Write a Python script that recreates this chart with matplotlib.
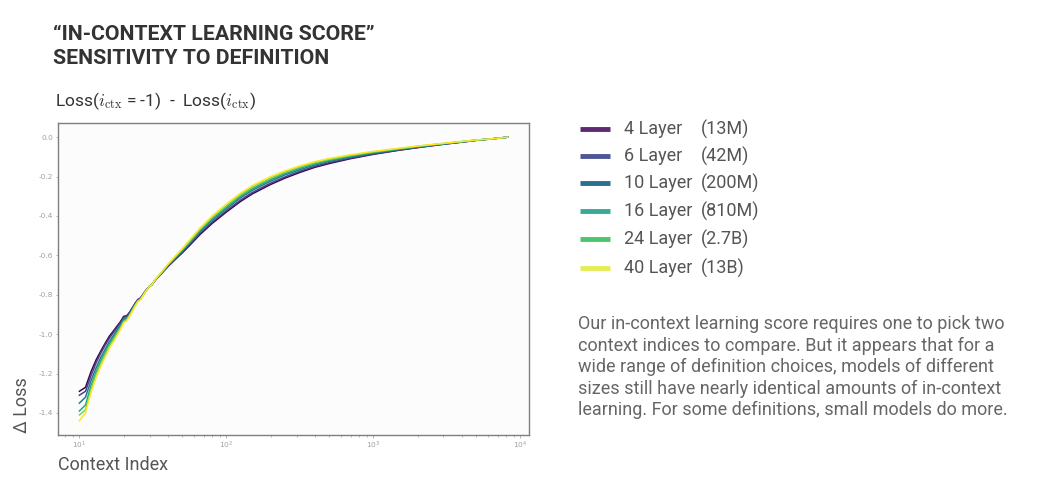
import matplotlib
matplotlib.use("Agg")
import matplotlib.pyplot as plt

plt.rcParams['mathtext.fontset'] = 'cm'
plt.rcParams['axes.unicode_minus'] = False

context_index = [10, 11, 12, 13, 14, 15, 16, 17, 18, 19, 20, 21, 22, 24, 25, 26, 28, 30, 31, 33,
                 36, 40, 45, 50, 56, 66, 80, 100, 125, 150, 200, 250, 316, 400, 500, 700, 1000,
                 1500, 2000, 3000, 4000, 5000, 6500, 8192]

loss_4 = [-1.290, -1.270, -1.190, -1.130, -1.085, -1.045, -1.010, -0.985, -0.960, -0.937, -0.910,
          -0.906, -0.888, -0.842, -0.824, -0.817, -0.783, -0.757, -0.750, -0.724, -0.694, -0.657,
          -0.620, -0.588, -0.551, -0.495, -0.438, -0.380, -0.326, -0.288, -0.240, -0.208, -0.179,
          -0.153, -0.134, -0.109, -0.087, -0.066, -0.053, -0.036, -0.025, -0.016, -0.008, 0.000]
loss_6 = [-1.310, -1.290, -1.210, -1.145, -1.095, -1.055, -1.020, -0.993, -0.967, -0.942, -0.915,
          -0.910, -0.891, -0.844, -0.825, -0.818, -0.783, -0.757, -0.750, -0.723, -0.693, -0.655,
          -0.617, -0.584, -0.546, -0.489, -0.431, -0.373, -0.319, -0.281, -0.233, -0.202, -0.173,
          -0.148, -0.129, -0.106, -0.085, -0.065, -0.052, -0.035, -0.025, -0.016, -0.008, 0.000]
loss_10 = [-1.350, -1.320, -1.235, -1.170, -1.117, -1.075, -1.037, -1.008, -0.980, -0.954, -0.924,
           -0.917, -0.896, -0.847, -0.828, -0.820, -0.784, -0.757, -0.750, -0.723, -0.691, -0.652,
           -0.613, -0.579, -0.540, -0.481, -0.422, -0.363, -0.308, -0.270, -0.223, -0.192, -0.165,
           -0.141, -0.123, -0.101, -0.081, -0.062, -0.050, -0.034, -0.024, -0.015, -0.008, 0.000]
loss_16 = [-1.390, -1.360, -1.260, -1.190, -1.135, -1.090, -1.050, -1.020, -0.990, -0.962, -0.930,
           -0.922, -0.900, -0.850, -0.830, -0.822, -0.785, -0.757, -0.750, -0.722, -0.690, -0.650,
           -0.610, -0.575, -0.535, -0.475, -0.415, -0.355, -0.300, -0.262, -0.215, -0.185, -0.158,
           -0.135, -0.118, -0.097, -0.078, -0.060, -0.048, -0.033, -0.023, -0.015, -0.008, 0.000]
loss_24 = [-1.410, -1.385, -1.280, -1.205, -1.148, -1.102, -1.060, -1.030, -0.998, -0.969, -0.936,
           -0.927, -0.904, -0.853, -0.832, -0.824, -0.786, -0.757, -0.750, -0.721, -0.689, -0.648,
           -0.607, -0.571, -0.530, -0.469, -0.408, -0.348, -0.292, -0.254, -0.208, -0.178, -0.152,
           -0.130, -0.113, -0.093, -0.075, -0.058, -0.046, -0.032, -0.022, -0.015, -0.008, 0.000]
loss_40 = [-1.440, -1.400, -1.295, -1.220, -1.163, -1.115, -1.072, -1.040, -1.008, -0.977, -0.942,
           -0.932, -0.908, -0.856, -0.835, -0.826, -0.787, -0.757, -0.750, -0.720, -0.687, -0.645,
           -0.603, -0.566, -0.524, -0.462, -0.400, -0.339, -0.284, -0.246, -0.200, -0.171, -0.146,
           -0.124, -0.108, -0.089, -0.072, -0.056, -0.045, -0.031, -0.022, -0.014, -0.008, 0.000]

layers = ["4 Layer", "6 Layer", "10 Layer", "16 Layer", "24 Layer", "40 Layer"]
sizes = ["(13M)", "(42M)", "(200M)", "(810M)", "(2.7B)", "(13B)"]
series = [loss_4, loss_6, loss_10, loss_16, loss_24, loss_40]
line_colors = ['#440154', '#414487', '#2a788e', '#22a884', '#7ad151', '#fde725']
legend_colors = ['#5e2b72', '#4d5796', '#2a6f8e', '#3aa896', '#4ec46f', '#e6ec55']

fig = plt.figure(figsize=(10.56, 4.99), dpi=100)
fig.patch.set_facecolor('white')

ax = fig.add_axes([58/1056, 1 - 435/499, (529-58)/1056, (435-123)/499])
ax.set_facecolor('#fcfcfc')
for ys, c in zip(series, line_colors):
    ax.plot(context_index, ys, color=c, lw=1.1)
ax.set_xscale('log')
ax.margins(x=0.05, y=0.05)
for s in ax.spines.values():
    s.set_color('#7f7f7f')
    s.set_linewidth(1.0)
ax.tick_params(axis='both', which='both', labelsize=5.3, colors='#aaaaaa', labelcolor='#a0a0a0',
               length=1.8, width=0.6, pad=1.8)
ax.tick_params(axis='both', which='minor', length=1.2)
ax.set_yticks([0.0, -0.2, -0.4, -0.6, -0.8, -1.0, -1.2, -1.4])

fam = ['Roboto', 'DejaVu Sans']
fig.text(53/1056, 1 - 34/499, "“IN-CONTEXT LEARNING SCORE”", family=fam, weight='bold',
         fontsize=15.3, color='#333333', va='center', ha='left')
fig.text(53/1056, 1 - 58/499, "SENSITIVITY TO DEFINITION", family=fam, weight='bold',
         fontsize=15.3, color='#333333', va='center', ha='left')
fig.text(55/1056, 1 - 101/499, r"Loss($i_{\mathrm{ctx}}$ = -1)  -  Loss($i_{\mathrm{ctx}}$)",
         family=fam, fontsize=12.5, color='#333333', va='center', ha='left')
fig.text(22/1056, 1 - 405/499, "Δ Loss", family=fam, fontsize=13, color='#555555',
         va='center', ha='center', rotation=90)
fig.text(58/1056, 1 - 465/499, "Context Index", family=fam, fontsize=13, color='#555555',
         va='center', ha='left')

row_y = [129, 156, 183, 211, 239, 268]
for lab, sz, c, yy in zip(layers, sizes, legend_colors, row_y):
    fig.add_artist(plt.Line2D([580/1056, 610/1056], [1 - yy/499, 1 - yy/499], color=c,
                              lw=3.5, solid_capstyle='butt'))
    fig.text(624/1056, 1 - yy/499, lab, family=fam, fontsize=13, color='#555555',
             va='center', ha='left')
    fig.text(701/1056, 1 - yy/499, sz, family=fam, fontsize=13, color='#555555',
             va='center', ha='left')

para = ["Our in-context learning score requires one to pick two",
        "context indices to compare. But it appears that for a",
        "wide range of definition choices, models of different",
        "sizes still have nearly identical amounts of in-context",
        "learning. For some definitions, small models do more."]
for i, line in enumerate(para):
    fig.text(578/1056, 1 - (324 + i*21.5)/499, line, family=fam, fontsize=13, color='#666666',
             va='center', ha='left')

fig.savefig('out.png', dpi=100, facecolor='white')
